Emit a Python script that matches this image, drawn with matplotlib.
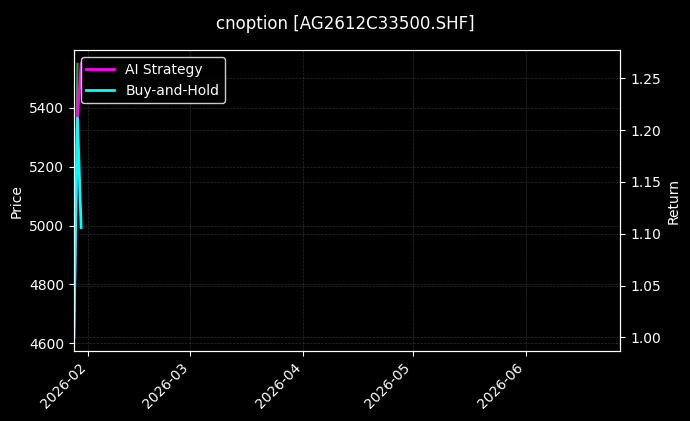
import matplotlib
matplotlib.use("Agg")
import matplotlib.pyplot as plt
import matplotlib.dates as mdates
import numpy as np
import pandas as pd

title = "cnoption [AG2612C33500.SHF]"
dates = pd.to_datetime(["2026-01-28", "2026-01-29", "2026-01-30"])
price_dates = pd.to_datetime(["2026-01-28", "2026-01-29"])
price = [4620, 5550]
ai_strategy = [1.000, 1.2116, 1.264]
buy_hold = [1.000, 1.2116, 1.106]
x_limits = pd.to_datetime(["2026-01-28", "2026-06-27"])

plt.style.use("dark_background")
fig = plt.figure(figsize=(6.9, 4.21), dpi=100)
ax1 = fig.add_axes([0.107, 0.166, 0.792, 0.715])
ax1.plot(price_dates, price, color="#2ca02c", linewidth=1.5)
ax1.set_ylabel("Price", fontsize=10)
ax1.set_yticks([4600, 4800, 5000, 5200, 5400])
ax1.grid(True, linestyle="--", linewidth=0.5, color="gray", alpha=0.35)

ax2 = ax1.twinx()
ax2.plot(dates, ai_strategy, color="#ff00ff", linewidth=2, label="AI Strategy")
ax2.plot(dates, buy_hold, color="#00ffff", linewidth=2, label="Buy-and-Hold")
ax2.set_ylabel("Return", fontsize=10)
ax2.set_yticks([1.00, 1.05, 1.10, 1.15, 1.20, 1.25])
ax2.yaxis.set_major_formatter(matplotlib.ticker.FormatStrFormatter("%.2f"))
ax2.grid(True, linestyle="--", linewidth=0.5, color="gray", alpha=0.35)

ax1.set_xlim(x_limits[0], x_limits[1])
ax1.xaxis.set_major_locator(mdates.MonthLocator())
ax1.xaxis.set_major_formatter(mdates.DateFormatter("%Y-%m"))
for lab in ax1.get_xticklabels():
    lab.set_rotation(45)
    lab.set_ha("right")

leg = ax2.legend(loc="upper left", fontsize=10, facecolor="black", edgecolor="white", framealpha=0.8)
fig.suptitle(title, fontsize=12, y=0.965)
fig.savefig("out.png", dpi=100, facecolor="black")
